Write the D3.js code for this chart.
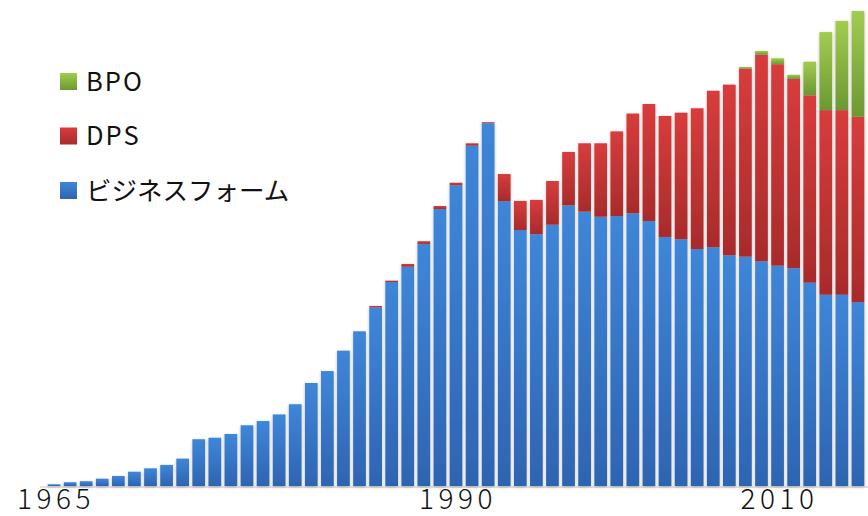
<!DOCTYPE html>
<html>
<head>
<meta charset="utf-8">
<script src="https://cdn.jsdelivr.net/npm/d3@7"></script>
<style>
  html, body { margin: 0; padding: 0; background: #fff; }
  svg { display: block; }
  .tick text { font-family: "Noto Sans CJK JP", "Noto Sans", sans-serif; font-weight: 300; }
</style>
</head>
<body>
<svg id="chart" width="868" height="516"></svg>
<script>
// Fiscal years shown on the x axis
const years = d3.range(1965, 2016);

// ビジネスフォーム segment, one value per year
const formValues = [
  10, 22, 28, 43, 59, 84, 104, 124, 161, 275,
  284, 306, 357, 382, 421, 481, 606, 676, 796, 910,
  1051, 1200, 1290, 1424, 1629, 1769, 2002, 2134, 1676, 1506,
  1481, 1537, 1651, 1614, 1584, 1588, 1604, 1559, 1465, 1451,
  1394, 1404, 1357, 1349, 1322, 1296, 1281, 1196, 1125, 1125,
  1082
];

// DPS segment
const dpsValues = [
  0, 0, 0, 0, 0, 0, 0, 0, 0, 0,
  0, 0, 0, 0, 0, 0, 0, 0, 0, 0,
  8, 8, 16, 16, 18, 15, 14, 6, 159, 171,
  202, 257, 314, 402, 432, 498, 587, 688, 712, 745,
  828, 921, 1004, 1106, 1215, 1185, 1114, 1102, 1086, 1086,
  1090
];

// BPO segment
const bpoValues = [
  0, 0, 0, 0, 0, 0, 0, 0, 0, 0,
  0, 0, 0, 0, 0, 0, 0, 0, 0, 0,
  0, 0, 0, 0, 0, 0, 0, 0, 0, 0,
  0, 0, 0, 0, 0, 0, 0, 0, 0, 0,
  0, 0, 0, 10, 22, 35, 24, 198, 459, 525,
  622
];

const tickYears = [1965, 1990, 2010];

const seriesKeys = ["form", "dps", "bpo"];
const seriesNames = { form: "ビジネスフォーム", dps: "DPS", bpo: "BPO" };
const legendOrder = ["bpo", "dps", "form"];

const rows = years.map((y, i) => ({
  year: y, form: formValues[i], dps: dpsValues[i], bpo: bpoValues[i]
}));

const svg = d3.select("#chart");
const baseY = 486;

const x = d3.scaleBand()
  .domain(years)
  .range([46, 866])
  .paddingInner(0.21)
  .paddingOuter(0.105);

const y = d3.scaleLinear()
  .domain([0, 2800])
  .range([baseY, baseY - 476]);

const defs = svg.append("defs");

// vertical shading for each series
const grads = {
  form: ["#3f86d8", "#2e64b2"],
  dps:  ["#d83c3c", "#a82b2b"],
  bpo:  ["#a2cc50", "#6c9832"]
};
Object.entries(grads).forEach(([k, [top, bottom]]) => {
  const g = defs.append("linearGradient")
    .attr("id", "grad-" + k)
    .attr("x1", 0).attr("y1", 0).attr("x2", 0).attr("y2", 1);
  g.append("stop").attr("offset", "0%").attr("stop-color", top);
  g.append("stop").attr("offset", "100%").attr("stop-color", bottom);
});

// soft shadow around the columns
const f = defs.append("filter")
  .attr("id", "shadow")
  .attr("x", "-50%").attr("y", "-10%")
  .attr("width", "200%").attr("height", "120%");
f.append("feDropShadow")
  .attr("dx", 0).attr("dy", 1)
  .attr("stdDeviation", 1.6)
  .attr("flood-color", "#000")
  .attr("flood-opacity", 0.28);

// faint floor line
svg.append("line")
  .attr("x1", 40).attr("x2", 868)
  .attr("y1", baseY + 1).attr("y2", baseY + 1)
  .attr("stroke", "#e2e2e2")
  .attr("stroke-width", 2);

const stacked = d3.stack().keys(seriesKeys)(rows);

const barsG = svg.append("g").attr("filter", "url(#shadow)");

barsG.selectAll("g.series")
  .data(stacked)
  .join("g")
  .attr("class", "series")
  .attr("fill", d => `url(#grad-${d.key})`)
  .selectAll("rect")
  .data(d => d.filter(s => s[1] - s[0] > 0))
  .join("rect")
  .attr("x", d => x(d.data.year))
  .attr("width", x.bandwidth())
  .attr("y", d => y(d[1]))
  .attr("height", d => y(d[0]) - y(d[1]));

// x axis: only a few year labels, no line or ticks
const axis = d3.axisBottom(x)
  .tickValues(tickYears)
  .tickSize(0)
  .tickPadding(0);

const axG = svg.append("g")
  .attr("transform", `translate(0, ${baseY})`)
  .call(axis);
axG.select(".domain").remove();
axG.selectAll(".tick text")
  .attr("y", 23)
  .attr("dy", 0)
  .attr("dx", 2)
  .attr("fill", "#111")
  .style("font-size", "28px")
  .style("letter-spacing", "4.5px");

// legend
const legend = svg.append("g");
const lg = legend.selectAll("g")
  .data(legendOrder)
  .join("g")
  .attr("transform", (d, i) => `translate(60, ${73 + i * 54.5})`);
lg.append("rect")
  .attr("width", 17).attr("height", 17)
  .attr("fill", d => `url(#grad-${d})`);
lg.append("text")
  .attr("x", 26)
  .attr("y", 17.5)
  .attr("fill", "#111")
  .style("font-family", "'Noto Sans CJK JP', 'Noto Sans', sans-serif")
  .style("font-size", "25.5px")
  .style("letter-spacing", d => d === "form" ? "0px" : "2px")
  .text(d => seriesNames[d]);
</script>
</body>
</html>
